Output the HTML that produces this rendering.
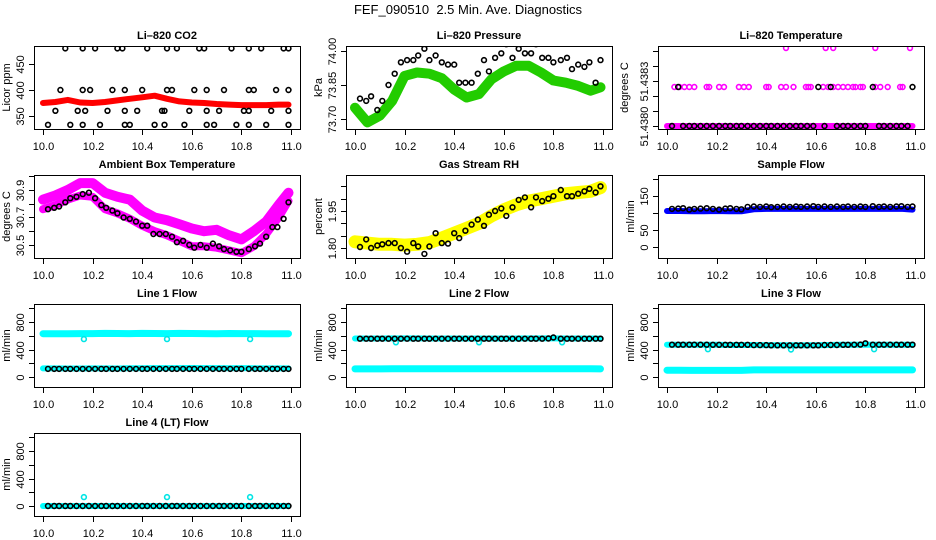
<!DOCTYPE html>
<html><head><meta charset="utf-8"><style>
html,body{margin:0;padding:0;background:#fff;}
svg{display:block;font-family:"Liberation Sans",Arial,sans-serif;}
</style></head><body>
<svg id="chart" width="936" height="540" viewBox="0 0 936 540" xmlns="http://www.w3.org/2000/svg">
<text x="468" y="14" text-anchor="middle" font-size="13" style="white-space:pre">FEF_090510  2.5 Min. Ave. Diagnostics</text>
</svg>
<script>
// ---- shared data ----
const bandTimes = [10.0,10.05,10.1,10.15,10.2,10.25,10.3,10.35,10.4,10.45,10.5,10.55,10.6,10.65,10.7,10.75,10.8,10.85,10.9,10.95,10.99];
const blackTimes = [10.02,10.045,10.065,10.09,10.11,10.135,10.16,10.185,10.21,10.235,10.255,10.28,10.30,10.325,10.35,10.375,10.40,10.42,10.445,10.47,10.495,10.52,10.54,10.565,10.59,10.61,10.635,10.66,10.685,10.71,10.73,10.755,10.78,10.80,10.83,10.855,10.875,10.90,10.925,10.945,10.97,10.99];
const xTicks = [10.0,10.2,10.4,10.6,10.8,11.0];
const xTickLabels = ["10.0","10.2","10.4","10.6","10.8","11.0"];
// CO2
const co2Band = [375,377,381,376,375,377,380,383,386,389,383,378,376,375,373,372,371,371,371,372,372];
const co2Times = [10.09,10.16,10.21,10.30,10.32,10.42,10.50,10.54,10.63,10.65,10.76,10.83,10.88,10.97,10.99, 10.07,10.16,10.19,10.28,10.33,10.40,10.50,10.52,10.61,10.66,10.73,10.83,10.85,10.94,10.99, 10.05,10.14,10.17,10.26,10.33,10.38,10.48,10.49,10.59,10.66,10.71,10.81,10.83,10.92,10.99, 10.02,10.11,10.16,10.23,10.33,10.35,10.45,10.49,10.57,10.66,10.69,10.78,10.83,10.90,10.99];
const co2Black = [480,480,480,480,480,480,480,480,480,480,480,480,480,480,480, 400,400,400,400,400,400,400,400,400,400,400,400,400,400,400, 360,360,360,360,360,360,360,360,360,360,360,360,360,360,360, 333,333,333,333,333,333,333,333,333,333,333,333,333,333,333];
// Pressure
const presBand = [73.75,73.685,73.715,73.78,73.89,73.905,73.90,73.88,73.83,73.795,73.81,73.875,73.91,73.935,73.935,73.905,73.87,73.86,73.846,73.825,73.84];
const presBlack = [73.79,73.78,73.80,73.74,73.78,73.85,73.90,73.95,73.96,73.96,73.98,74.01,73.96,73.98,73.95,73.94,73.94,73.86,73.86,73.86,73.90,73.96,73.91,73.97,73.99,74.03,73.97,74.01,73.99,73.99,74.03,73.97,73.97,73.95,73.96,73.97,73.92,73.94,73.93,73.95,73.86,73.96];
// Li-820 temperature
const tempBand = [51.4380,51.4380,51.4380,51.4380,51.4380,51.4380,51.4380,51.4380,51.4380,51.4380,51.4380,51.4380,51.4380,51.4380,51.4380,51.4380,51.4380,51.4380,51.4380,51.4380,51.4380];
const tempMidTimes = [10.03,10.05,10.07,10.09,10.11,10.16,10.17,10.21,10.23,10.29,10.31,10.33,10.40,10.41,10.46,10.48,10.51,10.56,10.57,10.58,10.63,10.65,10.67,10.69,10.71,10.73,10.75,10.76,10.78,10.79,10.84,10.86,10.89,10.94,10.95,10.48,10.64,10.67,10.84,10.98];
const tempMidVals = [51.43826,51.43826,51.43826,51.43826,51.43826,51.43826,51.43826,51.43826,51.43826,51.43826,51.43826,51.43826,51.43826,51.43826,51.43826,51.43826,51.43826,51.43826,51.43826,51.43826,51.43826,51.43826,51.43826,51.43826,51.43826,51.43826,51.43826,51.43826,51.43826,51.43826,51.43826,51.43826,51.43826,51.43826,51.43826,51.43852,51.43852,51.43852,51.43852,51.43852];
const tempBlack = [51.4380,51.43826,51.4380,51.4380,51.4380,51.4380,51.4380,51.4380,51.4380,51.4380,51.4380,51.4380,51.4380,51.4380,51.4380,51.4380,51.4380,51.4380,51.4380,51.4380,51.4380,51.4380,51.4380,51.4380,51.4380,51.43826,51.4380,51.43826,51.4380,51.4380,51.4380,51.4380,51.4380,51.4380,51.43826,51.4380,51.4380,51.4380,51.4380,51.4380,51.4380,51.43826];
// Sample flow
const sampBand = [106,106,105,105,106,105,105,111,112,112,112,112,112,112,112,112,112,112,112,112,110];
const sampBlack = [112,113,114,110,112,113,114,112,110,113,114,112,111,118,119,118,119,117,118,119,118,119,118,119,120,118,119,118,119,118,119,118,119,118,120,118,119,118,119,120,118,119];
// Ambient box temperature
const boxBand = [30.83,30.86,30.90,30.95,30.95,30.88,30.85,30.83,30.75,30.70,30.68,30.65,30.62,30.60,30.61,30.57,30.54,30.60,30.67,30.79,30.88];
const boxBandLow = [30.76,30.79,30.83,30.86,30.85,30.76,30.73,30.69,30.64,30.60,30.57,30.53,30.49,30.49,30.48,30.46,30.44,30.49,30.58,30.70,30.82];
const boxBlack = [30.76,30.77,30.78,30.81,30.84,30.85,30.87,30.88,30.84,30.79,30.77,30.75,30.73,30.70,30.69,30.67,30.64,30.64,30.58,30.58,30.58,30.56,30.52,30.53,30.50,30.48,30.50,30.48,30.51,30.49,30.47,30.46,30.45,30.45,30.47,30.49,30.51,30.56,30.63,30.63,30.69,30.81];
// Gas stream RH
const rhBand = [1.825,1.82,1.815,1.815,1.812,1.815,1.822,1.84,1.86,1.88,1.90,1.93,1.955,1.975,1.99,2.0,2.01,2.02,2.025,2.03,2.045];
const rhBlack = [1.804,1.835,1.80,1.81,1.815,1.82,1.82,1.80,1.785,1.82,1.806,1.776,1.806,1.86,1.82,1.818,1.86,1.84,1.87,1.895,1.915,1.89,1.935,1.95,1.96,1.93,1.965,1.995,2.005,1.965,2.005,1.99,2.0,2.01,2.035,2.01,2.01,2.02,2.03,2.04,2.025,2.05];
// Line flows
const outlierTimes = [10.165,10.5,10.835];
const l1BandHi = [630,628,630,632,632,634,633,632,634,633,632,634,633,632,630,633,632,631,630,630,630];
const l1BandLo = [125,125,124,124,125,125,124,128,128,130,130,130,132,130,130,128,130,128,125,125,125];
const l1Black = [118,118,118,118,118,118,118,118,118,118,118,118,118,118,118,118,118,118,118,118,118,118,118,118,118,118,118,118,118,118,118,118,118,118,118,118,118,118,118,118,118,118];
const l1Out = [552,552,552];
const l2BandHi = [560,560,560,562,562,562,560,560,560,560,560,560,560,560,562,562,562,560,560,560,560];
const l2BandLo = [118,118,118,120,120,120,120,120,120,120,120,120,120,120,120,120,120,120,120,120,118];
const l2Black = [558,558,558,558,558,558,558,558,558,558,558,558,558,558,558,558,558,558,558,558,558,558,558,558,558,558,558,558,558,558,558,558,560,575,558,558,558,558,558,558,558,558];
const l2Out = [505,505,505];
const l3BandHi = [470,468,470,470,468,466,466,466,465,462,462,462,462,466,468,470,472,468,468,468,468];
const l3BandLo = [100,98,96,96,96,96,96,104,104,104,104,104,104,104,104,104,104,104,104,104,104];
const l3Black = [470,470,470,470,470,470,470,468,468,468,468,468,468,468,465,465,465,462,462,462,462,462,462,462,462,462,466,466,466,468,468,470,472,490,470,470,470,470,470,470,470,470];
const l3Out = [405,400,405];
const l4Band = [0,0,0,0,0,0,0,0,0,0,0,0,0,0,0,0,0,0,0,0,0];
const l4Black = [0,0,0,0,0,0,0,0,0,0,0,0,0,0,0,0,0,0,0,0,0,0,0,0,0,0,0,0,0,0,0,0,0,0,0,0,0,0,0,0,0,0];
const l4Out = [130,130,130];
const flowTicks = [0,200,400,600,800,1000];
const flowTickLabels = ["0","","400","","800",""];

const svg = document.getElementById('chart');
const NS = 'http://www.w3.org/2000/svg';
function mk(tag, attrs, parent){ const e=document.createElementNS(NS,tag); for(const k in attrs) e.setAttribute(k,attrs[k]); (parent||svg).appendChild(e); return e; }

function panel(cfg){
  const L = 34 + 312*cfg.col, T = 46 + 129*cfg.row, W = 266, H = 83;
  const g = mk('g',{});
  
  
  const xs = v => L + 9 + (v-10)*(W-18);
  const ys = v => T + H - (v-cfg.lo)/(cfg.hi-cfg.lo)*H;
  const t = mk('text',{x:L+W/2,y:T-7,'text-anchor':'middle','font-size':11,'font-weight':'bold'},g);
  t.textContent = cfg.title;
  
  
  const cid = 'c'+cfg.col+cfg.row;
  const cp = mk('clipPath',{id:cid},g); mk('rect',{x:L,y:T,width:W,height:H},cp);
  const plot = mk('g',{'clip-path':'url(#'+cid+')'},g);
  (cfg.bands||[]).forEach(b=>{
    const pts = b.times.map((tm,i)=>xs(tm).toFixed(1)+','+ys(b.vals[i]).toFixed(1)).join(' ');
    const pl = mk('polyline',{points:pts,fill:'none',stroke:b.color,'stroke-width':b.w,'stroke-linejoin':'round','stroke-linecap':'round'},plot);
    
    
  });
  (cfg.points||[]).forEach(p=>{
    p.times.forEach((tm,i)=>{
      const c = mk('circle',{cx:xs(tm).toFixed(1),cy:ys(p.vals[i]).toFixed(1),r:2.4,fill:'none',stroke:p.color,'stroke-width':1.6},plot);
      
      
    });
  });
  const bx = mk('rect',{x:L+0.5,y:T+0.5,width:W,height:H,fill:'none',stroke:'#000','stroke-width':1},g);
  
  
  xTicks.forEach((v,i)=>{
    const x = Math.round(xs(v))+0.5;
    mk('line',{x1:x,x2:x,y1:T+H,y2:T+H+6,stroke:'#000'},g);
    const tl = mk('text',{x:x,y:T+H+21,'text-anchor':'middle','font-size':11},g);
    tl.textContent = xTickLabels[i];
    
    
  });
  cfg.yt.forEach((v,i)=>{
    const y = Math.round(ys(v))+0.5;
    mk('line',{x1:L-5,x2:L,y1:y,y2:y,stroke:'#000'},g);
    if(cfg.ytl[i]){
      const tl = mk('text',{x:0,y:0,'text-anchor':'middle','font-size':11,transform:'translate('+(L-10)+','+y+') rotate(-90)'},g);
      tl.textContent = cfg.ytl[i];
      
      
    }
  });
  const yl = mk('text',{x:0,y:0,'text-anchor':'middle','font-size':11,transform:'translate('+(L-(cfg.ylOff||24))+','+(T+H/2)+') rotate(-90)'},g);
  yl.textContent = cfg.ylab;
  
  
}

panel({name:'co2-panel',col:0,row:0,title:'Li\u2013820 CO2',lo:325,hi:484.6,yt:[350,400,450],ytl:['350','400','450'],ylab:'Licor ppm',
  bands:[{times:bandTimes,vals:co2Band,color:'#ff0000',w:6}],
  points:[{times:co2Times,vals:co2Black,color:'#000'}]});
panel({name:'pressure-panel',col:1,row:0,title:'Li\u2013820 Pressure',lo:73.656,hi:74.022,yt:[73.70,73.85,74.00],ytl:['73.70','73.85','74.00'],ylab:'kPa',
  bands:[{times:bandTimes,vals:presBand,color:'#22cc00',w:10}],
  points:[{times:blackTimes,vals:presBlack,color:'#000'}]});
panel({name:'li820-temperature-panel',col:2,row:0,title:'Li\u2013820 Temperature',lo:51.43798,hi:51.438533,yt:[51.4380,51.4381,51.4382,51.4383,51.4384,51.4385],ytl:['51.4380','','','51.4383','',''],ylab:'degrees C',ylOff:30,
  bands:[{times:bandTimes,vals:tempBand,color:'#ff00ff',w:6}],
  points:[{times:tempMidTimes,vals:tempMidVals,color:'#ff00ff'},{times:blackTimes,vals:tempBlack,color:'#000'}]});
panel({name:'box-temperature-panel',col:0,row:1,title:'Ambient Box Temperature',lo:30.405,hi:31.009,yt:[30.5,30.6,30.7,30.8,30.9,31.0],ytl:['30.5','','30.7','','30.9',''],ylab:'degrees C',
  bands:[{times:bandTimes,vals:boxBand,color:'#ff00ff',w:10},{times:bandTimes,vals:boxBandLow,color:'#ff00ff',w:8}],
  points:[{times:blackTimes,vals:boxBlack,color:'#000'}]});
panel({name:'gas-stream-rh-panel',col:1,row:1,title:'Gas Stream RH',lo:1.7595,hi:2.096,yt:[1.80,1.85,1.90,1.95,2.00,2.05],ytl:['1.80','','','1.95','',''],ylab:'percent',
  bands:[{times:bandTimes,vals:rhBand,color:'#ffff00',w:13}],
  points:[{times:blackTimes,vals:rhBlack,color:'#000'}]});
panel({name:'sample-flow-panel',col:2,row:1,title:'Sample Flow',lo:-32.4,hi:211.8,yt:[0,50,100,150,200],ytl:['0','50','','150',''],ylab:'ml/min',
  bands:[{times:bandTimes,vals:sampBand,color:'#0000ff',w:6}],
  points:[{times:blackTimes,vals:sampBlack,color:'#000'}]});
panel({name:'line1-flow-panel',col:0,row:2,title:'Line 1 Flow',lo:-145,hi:1062,yt:flowTicks,ytl:flowTickLabels,ylab:'ml/min',
  bands:[{times:bandTimes,vals:l1BandHi,color:'#00ffff',w:7},{times:bandTimes,vals:l1BandLo,color:'#00ffff',w:6}],
  points:[{times:outlierTimes,vals:l1Out,color:'#00e5e5'},{times:blackTimes,vals:l1Black,color:'#000'}]});
panel({name:'line2-flow-panel',col:1,row:2,title:'Line 2 Flow',lo:-145,hi:1062,yt:flowTicks,ytl:flowTickLabels,ylab:'ml/min',
  bands:[{times:bandTimes,vals:l2BandHi,color:'#00ffff',w:6},{times:bandTimes,vals:l2BandLo,color:'#00ffff',w:7}],
  points:[{times:outlierTimes,vals:l2Out,color:'#00e5e5'},{times:blackTimes,vals:l2Black,color:'#000'}]});
panel({name:'line3-flow-panel',col:2,row:2,title:'Line 3 Flow',lo:-145,hi:1062,yt:flowTicks,ytl:flowTickLabels,ylab:'ml/min',
  bands:[{times:bandTimes,vals:l3BandHi,color:'#00ffff',w:6},{times:bandTimes,vals:l3BandLo,color:'#00ffff',w:7}],
  points:[{times:outlierTimes,vals:l3Out,color:'#00e5e5'},{times:blackTimes,vals:l3Black,color:'#000'}]});
panel({name:'line4-flow-panel',col:0,row:3,title:'Line 4 (LT) Flow',lo:-145,hi:1062,yt:flowTicks,ytl:flowTickLabels,ylab:'ml/min',
  bands:[{times:bandTimes,vals:l4Band,color:'#00ffff',w:6}],
  points:[{times:outlierTimes,vals:l4Out,color:'#00e5e5'},{times:blackTimes,vals:l4Black,color:'#000'}]});
</script>
</body></html>
